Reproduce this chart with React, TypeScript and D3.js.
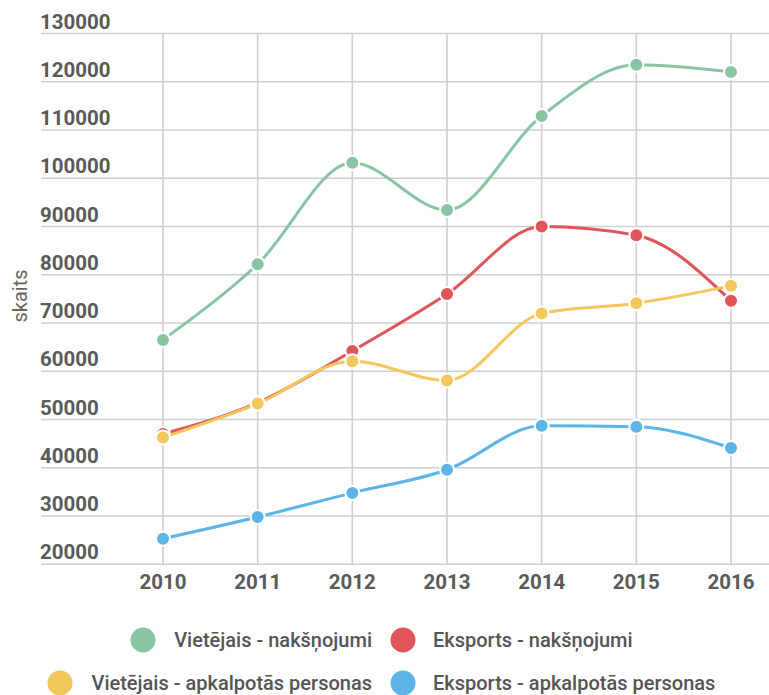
import React from 'react';
import * as d3 from 'd3';

const years = ['2010', '2011', '2012', '2013', '2014', '2015', '2016'];
const yTicks = [20000, 30000, 40000, 50000, 60000, 70000, 80000, 90000, 100000, 110000, 120000, 130000];

const vietejaisNaksnojumi = [66500, 82200, 103200, 93400, 112900, 123500, 122000];
const eksportsNaksnojumi = [47000, 53500, 64200, 76000, 90000, 88200, 74600];
const vietejaisPersonas = [46300, 53300, 62100, 58100, 72000, 74100, 77700];
const eksportsPersonas = [25300, 29800, 34800, 39600, 48700, 48500, 44100];

const seriesNames = [
  'Vietējais - nakšņojumi',
  'Eksports - nakšņojumi',
  'Vietējais - apkalpotās personas',
  'Eksports - apkalpotās personas',
];
const colors = ['#89c5a2', '#e0555a', '#f2c75c', '#5cb5e6'];
const seriesValues = [vietejaisNaksnojumi, eksportsNaksnojumi, vietejaisPersonas, eksportsPersonas];

const W = 769;
const H = 695;
const font = 'Roboto, "Noto Sans", sans-serif';

export default function App() {
  const x = d3.scalePoint<string>().domain(years).range([163, 731]);
  const y = d3.scaleLinear().domain([20000, 130000]).range([564.3, 33.5]);

  const line = d3
    .line<number>()
    .x((_, i) => x(years[i]) as number)
    .y((d) => y(d))
    .curve(d3.curveMonotoneX);

  // legend: left column right-aligned, right column left-aligned
  const legendRows = [640, 683];

  return (
    <svg
      width={W}
      height={H}
      style={{ position: 'absolute', left: 0, top: 0, background: '#fff' }}
    >
      {/* grid */}
      {yTicks.map((t) => (
        <g key={t}>
          <line x1={41} x2={W} y1={y(t)} y2={y(t)} stroke="#cfcfcf" strokeWidth={1.6} />
          <text
            x={40}
            y={y(t) - 5}
            fontFamily={font}
            fontWeight="bold"
            fontSize={20.5}
            fill="#5a5a5a"
          >
            {t}
          </text>
        </g>
      ))}
      {years.map((yr) => (
        <g key={yr}>
          <line
            x1={x(yr)}
            x2={x(yr)}
            y1={y(130000)}
            y2={y(20000)}
            stroke="#cfcfcf"
            strokeWidth={1.6}
          />
          <text
            x={x(yr)}
            y={589}
            textAnchor="middle"
            fontFamily={font}
            fontWeight="bold"
            fontSize={20.5}
            fill="#5a5a5a"
          >
            {yr}
          </text>
        </g>
      ))}

      <text
        transform="translate(27, 296) rotate(-90)"
        textAnchor="middle"
        fontFamily={font}
        fontSize={20}
        fill="#666"
      >
        skaits
      </text>

      {seriesValues.map((vals, s) => (
        <g key={s}>
          <path d={line(vals) || ''} fill="none" stroke={colors[s]} strokeWidth={3} />
          {vals.map((v, i) => (
            <circle
              key={i}
              cx={x(years[i])}
              cy={y(v)}
              r={7}
              fill={colors[s]}
              stroke="#fff"
              strokeWidth={2}
            />
          ))}
        </g>
      ))}

      {/* legend */}
      {seriesNames.map((name, s) => {
        const row = legendRows[Math.floor(s / 2)];
        const left = s % 2 === 0;
        return (
          <g key={name}>
            <circle
              cx={left ? (s === 0 ? 143 : 60) : 403}
              cy={row}
              r={12.5}
              fill={colors[s]}
            />
            <text
              x={left ? 372 : 433}
              y={row + 7}
              textAnchor={left ? 'end' : 'start'}
              fontFamily={font}
              fontWeight={500}
              fontSize={20}
              fill="#555"
            >
              {name}
            </text>
          </g>
        );
      })}
    </svg>
  );
}
